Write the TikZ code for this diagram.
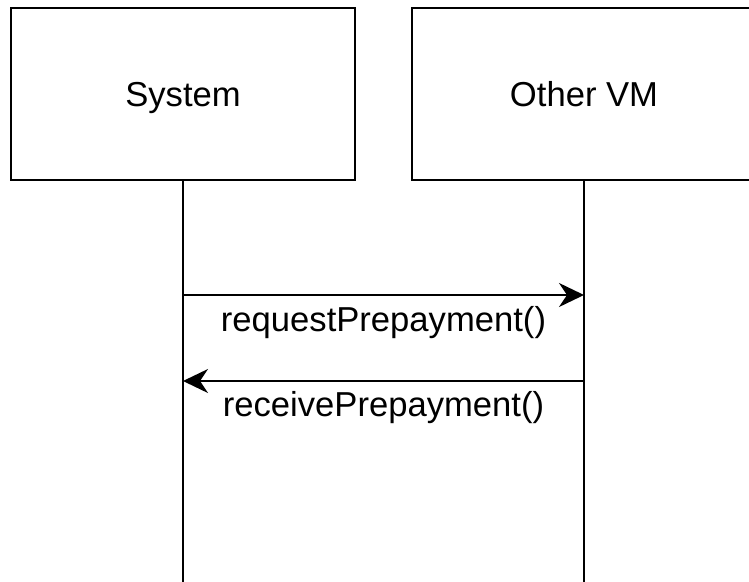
\documentclass[tikz,border=0pt]{standalone}
\usepackage{fontspec}
\setmainfont{Liberation Sans}
\usetikzlibrary{arrows.meta, positioning}

\begin{document}
\begin{tikzpicture}[>={Stealth[length=0.5cm, width=0.48cm, inset=0.16cm]}, x=0.02cm, y=-0.02cm,
  font=\fontsize{19.7}{24}\selectfont,
  lifebox/.style={draw, line width=1.5pt, minimum width=6.88cm, minimum height=3.44cm,
    text height=14.1pt, text depth=0pt},
  msg/.style={->, line width=1.2pt}]
  \useasboundingbox (0,0) rectangle (749,581);
  \clip (0,0) rectangle (749,581);
  \foreach \x/\name/\label in {183/sys/System, 584/vm/{Other VM}} {
    \node[lifebox] (\name) at (\x, 94) {\label};
    \coordinate (\name-end) at (\x, 590);
    \draw[line width=1.3pt] (\name) -- (\name-end);
  }

  \coordinate (sys-req) at (183, 295);
  \coordinate (vm-req) at (584, 295);
  \coordinate (sys-rcv) at (183, 381);
  \coordinate (vm-rcv) at (584, 381);
  \draw[msg] (sys-req) -- (vm-req) node[midway, anchor=base, yshift=-0.74cm] (req) {requestPrepayment()};
  \draw[msg] (vm-rcv) -- (sys-rcv) node[midway, anchor=base, yshift=-0.72cm] (rcv) {receivePrepayment()};
\end{tikzpicture}
\end{document}
